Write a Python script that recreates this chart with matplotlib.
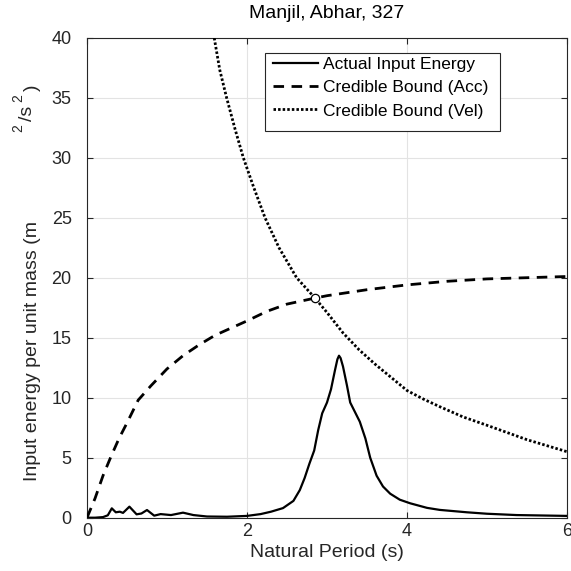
import matplotlib
matplotlib.use("Agg")
import matplotlib.pyplot as plt
from matplotlib.patches import Rectangle

plt.rcParams["font.family"] = ["Liberation Sans", "DejaVu Sans"]

# Actual input energy spectrum
period_actual = [0.00, 0.10, 0.20, 0.26, 0.31, 0.36, 0.41, 0.45, 0.53, 0.62, 0.68,
                 0.75, 0.84, 0.92, 1.05, 1.20, 1.33, 1.50, 1.75, 2.00, 2.17, 2.30,
                 2.45, 2.58, 2.66, 2.72, 2.78, 2.84, 2.89, 2.94, 3.00, 3.05, 3.10,
                 3.13, 3.15, 3.17, 3.20, 3.25, 3.29, 3.35, 3.41, 3.48, 3.54, 3.62,
                 3.70, 3.79, 3.91, 4.04, 4.25, 4.41, 4.75, 5.00, 5.37, 6.00]
energy_actual = [0.00, 0.00, 0.05, 0.20, 0.78, 0.45, 0.50, 0.40, 0.92, 0.28, 0.35,
                 0.64, 0.17, 0.30, 0.22, 0.42, 0.22, 0.10, 0.08, 0.15, 0.30, 0.50,
                 0.80, 1.40, 2.30, 3.30, 4.50, 5.60, 7.30, 8.70, 9.60, 10.7, 12.3,
                 13.2, 13.5, 13.3, 12.6, 11.0, 9.6, 8.8, 8.0, 6.6, 5.0, 3.5,
                 2.6, 2.0, 1.5, 1.2, 0.82, 0.65, 0.45, 0.33, 0.22, 0.15]

# Credible bound from the acceleration spectrum
period_acc = [0.0, 0.1, 0.2, 0.3, 0.4, 0.5, 0.64, 0.8, 1.0, 1.2, 1.4, 1.6, 1.8,
              2.0, 2.25, 2.5, 2.85, 3.0, 3.5, 4.0, 4.5, 5.0, 5.5, 6.0]
energy_acc = [0.0, 1.6, 3.5, 5.1, 6.6, 7.9, 9.8, 11.0, 12.4, 13.5, 14.4, 15.2, 15.8,
              16.4, 17.2, 17.8, 18.3, 18.5, 19.0, 19.4, 19.7, 19.9, 20.0, 20.1]

# Credible bound from the velocity spectrum
period_vel = [1.52, 1.59, 1.66, 1.745, 1.85, 1.954, 2.08, 2.225, 2.40, 2.62, 2.85,
              3.00, 3.20, 3.40, 3.60, 3.80, 4.00, 4.20, 4.41, 4.70, 5.00, 5.50, 6.00]
energy_vel = [43.0, 40.0, 37.3, 35.0, 32.4, 30.0, 27.6, 25.0, 22.5, 20.0, 18.3,
              17.1, 15.4, 14.0, 12.8, 11.7, 10.6, 9.9, 9.25, 8.4, 7.7, 6.5, 5.5]

# Intersection of the two bounds
cross_period = [2.85]
cross_energy = [18.3]

x_ticks = [0, 2, 4, 6]
y_ticks = [0, 5, 10, 15, 20, 25, 30, 35, 40]

W = H = 571
fig = plt.figure(figsize=(W / 100, H / 100), dpi=100)
ax = fig.add_axes([87 / W, 1 - 517.7 / H, 480 / W, 480 / H])

ink = "#262626"
ax.plot(period_actual, energy_actual, color="black", lw=1.6, ls="-",
        label="Actual Input Energy", zorder=3)
ax.plot(period_acc, energy_acc, color="black", lw=2.0, dashes=(3.8, 2.7),
        label="Credible Bound (Acc)", zorder=3)
ax.plot(period_vel, energy_vel, color="black", lw=2.0, dashes=(0.9, 0.75),
        label="Credible Bound (Vel)", zorder=3)
ax.plot(cross_period, cross_energy, ls="none", marker="o", ms=6,
        mfc="white", mec="black", mew=0.9, zorder=4)

ax.set_xlim(0, 6)
ax.set_ylim(0, 40)
ax.set_xticks(x_ticks)
ax.set_yticks(y_ticks)
ax.grid(True, color="#e3e3e3", lw=0.8, zorder=0)
ax.set_axisbelow(True)
ax.tick_params(direction="in", length=4, width=0.8, colors=ink, labelsize=13,
               top=True, right=True)
ax.tick_params(axis="x", pad=4)
ax.tick_params(axis="y", pad=11)
for s in ax.spines.values():
    s.set_color(ink)
    s.set_linewidth(0.8)

ax.set_title("Manjil, Abhar, 327", fontsize=14, color="black", pad=14)
ax.set_xlabel("Natural Period (s)", fontsize=14, color=ink, labelpad=3)

# y label, with the unit written in separate raised pieces
def px(x, y):
    return x / W, 1 - y / H

fig.text(*px(33, 351), "Input energy per unit mass (m", rotation=90,
         ha="center", va="center", fontsize=14, color=ink)
fig.text(*px(18, 128), "2", rotation=90, ha="center", va="center",
         fontsize=10, color=ink)
fig.text(*px(28, 113.5), "/s", rotation=90, ha="center", va="center",
         fontsize=14, color=ink)
fig.text(*px(18, 98), "2", rotation=90, ha="center", va="center",
         fontsize=10, color=ink)
fig.text(*px(32, 87.5), ")", rotation=90, ha="center", va="center",
         fontsize=14, color=ink)

# legend box
bx0, bx1 = (265 - 87) / 480, (500 - 87) / 480
by0, by1 = (517.7 - 130.7) / 480, (517.7 - 52.7) / 480
ax.add_patch(Rectangle((bx0, by0), bx1 - bx0, by1 - by0, transform=ax.transAxes,
                       facecolor="white", edgecolor=ink, lw=0.8, zorder=5,
                       clip_on=False))
leg = ax.legend(loc="upper left", bbox_to_anchor=((273 - 87) / 480, 0.9595),
                fontsize=12.5, frameon=False, handlelength=2.6,
                handletextpad=0.29, borderpad=0, labelspacing=0.46,
                borderaxespad=0)
leg.set_zorder(6)

fig.savefig("out.png", dpi=100)
